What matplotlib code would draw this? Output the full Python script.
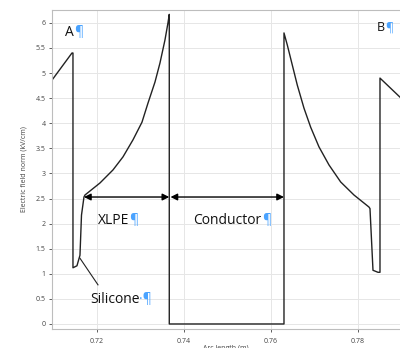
import matplotlib
matplotlib.use("Agg")
import matplotlib.pyplot as plt

# field norm along the arc
arc_length = [0.70966, 0.71425, 0.71448, 0.71448, 0.71540, 0.71609, 0.71644, 0.71701,
              0.71724, 0.72069, 0.72368, 0.72598, 0.72828, 0.73034, 0.73172, 0.73333,
              0.73448, 0.73563, 0.73632, 0.73662,
              0.73662, 0.76299,
              0.76299, 0.76375, 0.76490, 0.76605, 0.76759, 0.76913, 0.77103, 0.77333,
              0.77602, 0.77908, 0.78253,
              0.78276, 0.78345, 0.78460, 0.78506, 0.78506, 0.78966]
field_norm = [4.86, 5.40, 5.40, 1.12, 1.16, 1.37, 2.17, 2.53,
              2.57, 2.81, 3.07, 3.33, 3.67, 4.02, 4.40, 4.82,
              5.20, 5.66, 6.00, 6.17,
              0.0, 0.0,
              5.80, 5.56, 5.16, 4.76, 4.30, 3.92, 3.53, 3.17,
              2.83, 2.57, 2.33,
              2.30, 1.07, 1.03, 1.03, 4.90, 4.52]

x_ticks = [0.72, 0.74, 0.76, 0.78]
x_tick_labels = ["0.72", "0.74", "0.76", "0.78"]
y_ticks = [0, 0.5, 1, 1.5, 2, 2.5, 3, 3.5, 4, 4.5, 5, 5.5, 6]
y_tick_labels = ["0", "0.5", "1", "1.5", "2", "2.5", "3", "3.5", "4", "4.5", "5", "5.5", "6"]

# layer boundaries for the arrows
xlpe_span = [0.71701, 0.73662]
conductor_span = [0.73690, 0.76299]
arrow_level = 2.53

blue = "#4aa3ff"
plt.rcParams['font.family'] = ['Open Sans', 'DejaVu Sans']

fig = plt.figure(figsize=(4.0, 3.48), dpi=100)
ax = fig.add_axes([0.13, 0.0546, 0.87, 0.9164])

ax.plot(arc_length, field_norm, color="#222222", lw=1.0)

ax.set_xlim(0.70966, 0.78966)
ax.set_ylim(-0.1, 6.255)
ax.set_xticks(x_ticks)
ax.set_xticklabels(x_tick_labels)
ax.set_yticks(y_ticks)
ax.set_yticklabels(y_tick_labels)
ax.tick_params(labelsize=5, colors="#444444", length=2.5, width=0.6, pad=2)
ax.tick_params(axis="x", pad=4)
ax.grid(True, color="#e6e6e6", lw=0.7)
ax.set_axisbelow(True)
for side in ["left", "bottom", "top"]:
    ax.spines[side].set_color("#bdbdbd")
ax.spines["right"].set_visible(False)

ax.set_ylabel("Electric field norm (kV/cm)", fontsize=5, color="#444444", labelpad=6)
ax.set_xlabel("Arc length (m)", fontsize=5, color="#444444", labelpad=0)

arrow_style = dict(arrowstyle="<|-|>", color="black", lw=1.0, mutation_scale=10,
                   shrinkA=0, shrinkB=0)
ax.annotate("", xy=(xlpe_span[0], arrow_level), xytext=(xlpe_span[1], arrow_level),
            arrowprops=arrow_style)
ax.annotate("", xy=(conductor_span[0], arrow_level), xytext=(conductor_span[1], arrow_level),
            arrowprops=arrow_style)

# silicone pointer
ax.plot([0.71609, 0.72023], [1.31, 0.78], color="#222222", lw=0.8)


def label(x, y, s, size, tail="¶"):
    t = ax.text(x, y, s, fontsize=size, color="#111111", va="center", ha="left")
    ax.annotate(tail, xy=(1, 0.5), xycoords=t, va="center", ha="left",
                fontsize=size, color=blue)


label(0.71264, 5.80, "A", 10)
label(0.78437, 5.90, "B", 9)
label(0.72023, 2.07, "XLPE", 10)
label(0.74219, 2.07, "Conductor", 10)
label(0.71839, 0.48, "Silicone", 10, tail="·¶")

fig.savefig("out.png", dpi=100)
